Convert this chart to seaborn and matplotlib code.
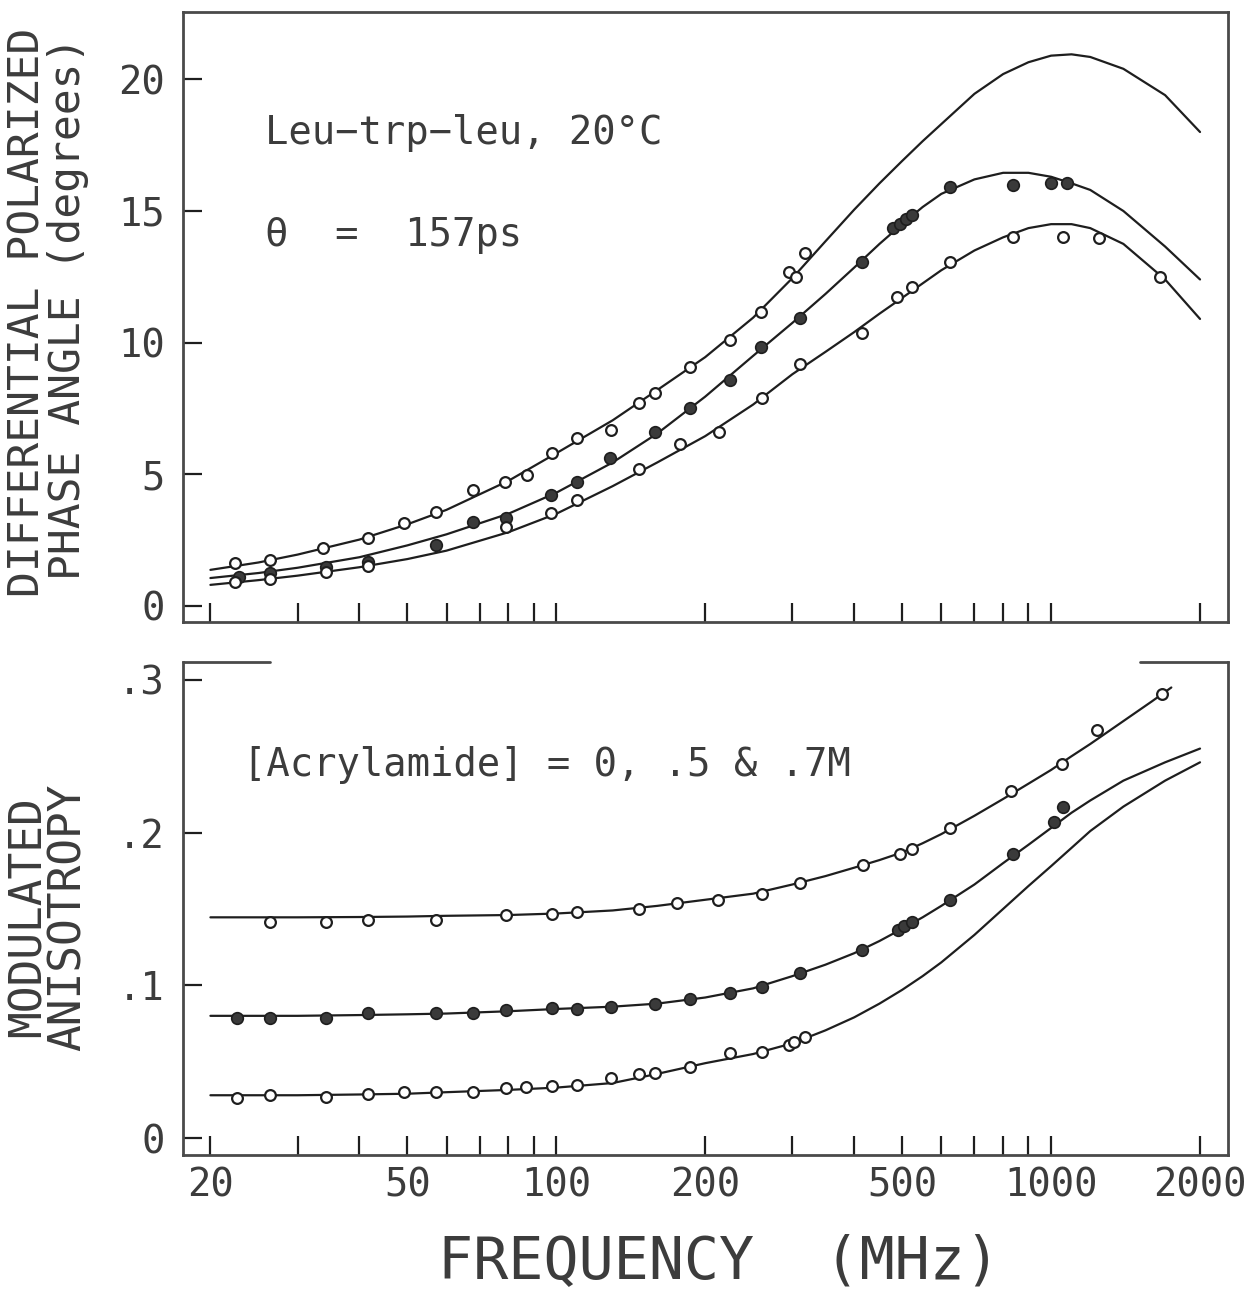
import matplotlib
matplotlib.use("Agg")
import matplotlib.pyplot as plt
import seaborn as sns
from matplotlib.ticker import FixedLocator, FixedFormatter, NullFormatter

# ---------------- data ----------------
fit_freq = [20, 25, 30, 40, 50, 60, 80, 100, 130, 160, 200, 250, 300, 350, 400, 450, 500,
            550, 600, 700, 800, 900, 1000, 1100, 1200, 1400, 1700, 2000]

# Top panel: differential polarized phase angle (degrees) - fitted curves
phase_fit_a = [1.37, 1.65, 1.95, 2.52, 3.1, 3.65, 4.75, 5.8, 7.05, 8.2, 9.45, 10.95, 12.45,
               13.85, 15.05, 16.05, 16.9, 17.65, 18.3, 19.45, 20.2, 20.65, 20.9, 20.95,
               20.85, 20.4, 19.4, 18.0]
phase_fit_b = [1.06, 1.25, 1.45, 1.85, 2.3, 2.72, 3.5, 4.3, 5.45, 6.55, 7.95, 9.5, 10.75,
               11.85, 12.85, 13.75, 14.5, 15.15, 15.65, 16.2, 16.45, 16.45, 16.3, 16.05,
               15.8, 15.0, 13.65, 12.4]
phase_fit_c = [0.80, 0.98, 1.15, 1.47, 1.78, 2.1, 2.8, 3.5, 4.55, 5.45, 6.45, 7.65, 8.8,
               9.65, 10.4, 11.1, 11.7, 12.25, 12.75, 13.5, 14.0, 14.35, 14.5, 14.5, 14.35,
               13.75, 12.4, 10.9]

# Top panel: measured points
phase_a_f = [22.4, 26.4, 33.8, 41.7, 49.2, 57.1, 67.9, 78.6, 87.2, 98.1, 110, 129, 147,
             158, 186.5, 224, 259, 296, 305, 318]
phase_a_v = [1.62, 1.75, 2.19, 2.57, 3.14, 3.58, 4.41, 4.72, 4.98, 5.80, 6.37, 6.68, 7.70,
             8.08, 9.09, 10.1, 11.18, 12.7, 12.5, 13.4]
phase_b_f = [22.8, 26.4, 34.2, 41.7, 57.1, 67.9, 79.3, 97.5, 110, 128.6, 158, 186.5, 224,
             259, 311, 415, 480, 495, 509, 523, 626, 836, 1000, 1075]
phase_b_v = [1.11, 1.24, 1.49, 1.68, 2.3, 3.20, 3.33, 4.22, 4.72, 5.61, 6.62, 7.51, 8.58,
             9.85, 10.93, 13.08, 14.35, 14.5, 14.7, 14.85, 15.93, 15.99, 16.05, 16.05]
phase_c_f = [22.4, 26.4, 34.2, 41.7, 79.3, 97.5, 110, 147, 178, 213, 261, 311, 415, 489,
             523, 626, 836, 1056, 1252, 1658]
phase_c_v = [0.92, 1.02, 1.3, 1.52, 3.0, 3.52, 4.03, 5.2, 6.15, 6.6, 7.9, 9.2, 10.36, 11.75,
             12.13, 13.08, 14.0, 14.0, 13.97, 12.5]

# Bottom panel: modulated anisotropy - fitted curves
aniso_fit_top_f = [20, 25, 30, 40, 50, 60, 80, 100, 130, 160, 200, 250, 300, 350, 400, 450,
                   500, 550, 600, 700, 800, 900, 1000, 1100, 1200, 1400, 1600, 1750]
aniso_fit_top = [0.1445, 0.1445, 0.1445, 0.1447, 0.145, 0.1455, 0.146, 0.147, 0.149, 0.152,
                 0.156, 0.160, 0.166, 0.1715, 0.177, 0.182, 0.187, 0.193, 0.199, 0.211,
                 0.222, 0.232, 0.241, 0.250, 0.258, 0.273, 0.286, 0.295]
aniso_fit_mid = [0.080, 0.080, 0.080, 0.0805, 0.081, 0.0815, 0.083, 0.0845, 0.086, 0.088,
                 0.092, 0.098, 0.106, 0.1135, 0.121, 0.129, 0.137, 0.1445, 0.152, 0.166,
                 0.180, 0.192, 0.203, 0.213, 0.221, 0.234, 0.246, 0.255]
aniso_fit_low = [0.028, 0.028, 0.028, 0.0285, 0.029, 0.030, 0.0315, 0.033, 0.036, 0.042,
                 0.049, 0.055, 0.062, 0.0705, 0.079, 0.088, 0.097, 0.106, 0.115, 0.133,
                 0.150, 0.165, 0.178, 0.190, 0.201, 0.217, 0.234, 0.246]

# Bottom panel: measured points
aniso_top_f = [26.4, 34.2, 41.7, 57.1, 79.3, 98, 110, 147, 175, 212, 261, 311, 416, 494,
               524, 624, 829, 1052, 1240, 1672]
aniso_top_v = [0.1417, 0.1417, 0.143, 0.143, 0.146, 0.147, 0.148, 0.150, 0.154, 0.156,
               0.160, 0.167, 0.179, 0.186, 0.189, 0.203, 0.227, 0.245, 0.267, 0.291]
aniso_mid_f = [22.6, 26.4, 34.2, 41.7, 57.1, 67.9, 79.3, 98, 110, 129, 158, 186.5, 224, 261,
               311, 415, 490, 505, 523, 626, 836, 1013, 1056]
aniso_mid_v = [0.0784, 0.0784, 0.0784, 0.0817, 0.0817, 0.0817, 0.0838, 0.0849, 0.0843,
               0.086, 0.0875, 0.0908, 0.0948, 0.099, 0.108, 0.123, 0.136, 0.139, 0.1417,
               0.156, 0.186, 0.207, 0.217]
aniso_low_f = [22.6, 26.4, 34.2, 41.7, 49.2, 57.1, 67.9, 79.3, 87, 98, 110, 129, 147, 158,
               186.5, 224, 261, 295, 303, 318]
aniso_low_v = [0.026, 0.0282, 0.027, 0.029, 0.0303, 0.0303, 0.0303, 0.0325, 0.0336, 0.034,
               0.0347, 0.039, 0.042, 0.0425, 0.0467, 0.0555, 0.056, 0.061, 0.063, 0.066]

x_major = [20, 50, 100, 200, 500, 1000, 2000]
x_major_labels = ["20", "50", "100", "200", "500", "1000", "2000"]
x_minor = [30, 40, 60, 70, 80, 90, 300, 400, 600, 700, 800, 900]
phase_ticks = [0, 5, 10, 15, 20]
phase_tick_labels = ["0", "5", "10", "15", "20"]
aniso_ticks = [0, 0.1, 0.2, 0.3]
aniso_tick_labels = ["0", ".1", ".2", ".3"]

# ---------------- style ----------------
sns.set_theme(style="white")
plt.rcParams['font.family'] = ['DejaVu Sans Mono', 'DejaVu Sans']
INK = "#1e1e1e"
TXT = "#3c3c3c"
FRAME = "#4a4a4a"

fig = plt.figure(figsize=(12.6, 12.98), dpi=100)
ax1 = fig.add_axes([0.1452, 0.5208, 0.8294, 0.4700])
ax2 = fig.add_axes([0.1452, 0.1102, 0.8294, 0.3798])

for ax in (ax1, ax2):
    ax.set_xscale('log')
    ax.set_xlim(17.6, 2278)

def draw_curve(ax, f, v):
    sns.lineplot(x=f, y=v, ax=ax, color=INK, lw=1.6, estimator=None, sort=False, zorder=2)

def draw_open(ax, f, v):
    sns.scatterplot(x=f, y=v, ax=ax, marker='o', s=60, color='white',
                    edgecolor=INK, linewidth=1.6, zorder=3)

def draw_filled(ax, f, v):
    sns.scatterplot(x=f, y=v, ax=ax, marker='o', s=70, color='#3a3a3a',
                    edgecolor=INK, linewidth=1.2, zorder=3)

# top panel
draw_curve(ax1, fit_freq, phase_fit_a)
draw_curve(ax1, fit_freq, phase_fit_b)
draw_curve(ax1, fit_freq, phase_fit_c)
draw_open(ax1, phase_a_f, phase_a_v)
draw_filled(ax1, phase_b_f, phase_b_v)
draw_open(ax1, phase_c_f, phase_c_v)
ax1.set_ylim(-0.61, 22.56)

# bottom panel
draw_curve(ax2, aniso_fit_top_f, aniso_fit_top)
draw_curve(ax2, fit_freq, aniso_fit_mid)
draw_curve(ax2, fit_freq, aniso_fit_low)
draw_open(ax2, aniso_top_f, aniso_top_v)
draw_filled(ax2, aniso_mid_f, aniso_mid_v)
draw_open(ax2, aniso_low_f, aniso_low_v)
ax2.set_ylim(-0.0111, 0.3117)

for ax in (ax1, ax2):
    ax.xaxis.set_major_locator(FixedLocator(x_major))
    ax.xaxis.set_minor_locator(FixedLocator(x_minor))
    ax.xaxis.set_minor_formatter(NullFormatter())
    ax.tick_params(axis='both', which='both', direction='in', length=14, width=1.6,
                   color=INK, bottom=True, left=True, top=False, right=False,
                   labelcolor=TXT, labelsize=28)
    ax.tick_params(axis='y', which='minor', left=False)
    ax.tick_params(axis='y', pad=13)
    ax.tick_params(axis='x', pad=8)
    ax.set_xlabel("")
    ax.set_ylabel("")
    for s in ax.spines.values():
        s.set_linewidth(2.0)
        s.set_color(FRAME)

ax1.xaxis.set_major_formatter(NullFormatter())
ax2.xaxis.set_major_formatter(FixedFormatter(x_major_labels))
ax1.yaxis.set_major_locator(FixedLocator(phase_ticks))
ax1.yaxis.set_major_formatter(FixedFormatter(phase_tick_labels))
ax2.yaxis.set_major_locator(FixedLocator(aniso_ticks))
ax2.yaxis.set_major_formatter(FixedFormatter(aniso_tick_labels))

# bottom panel: top frame only partly drawn
ax2.spines['top'].set_visible(False)
ytop = ax2.get_ylim()[1]
ax2.axhline(ytop, xmin=0.0, xmax=0.083, color=FRAME, lw=2.0, clip_on=False)
ax2.axhline(ytop, xmin=0.916, xmax=1.0, color=FRAME, lw=2.0, clip_on=False)

# annotations
ax1.text(0.0785, 0.802, "Leu\u2212trp\u2212leu, 20\u00b0C", transform=ax1.transAxes,
         fontsize=28, color=TXT, ha='left', va='center')
ax1.text(0.0785, 0.634, "\u03b8  =  157ps", transform=ax1.transAxes,
         fontsize=28, color=TXT, ha='left', va='center')
ax2.text(0.0574, 0.791, "[Acrylamide] = 0, .5 & .7M", transform=ax2.transAxes,
         fontsize=28, color=TXT, ha='left', va='center')

# axis titles
fig.text(0.0222, 0.7596, "DIFFERENTIAL POLARIZED", rotation=90, ha='center', va='center',
         fontsize=31, color=TXT)
fig.text(0.054, 0.7627, "PHASE ANGLE (degrees)", rotation=90, ha='center', va='center',
         fontsize=31, color=TXT)
fig.text(0.0222, 0.2935, "MODULATED", rotation=90, ha='center', va='center',
         fontsize=32, color=TXT)
fig.text(0.054, 0.2935, "ANISOTROPY", rotation=90, ha='center', va='center',
         fontsize=32, color=TXT)
fig.text(0.571, 0.0277, "FREQUENCY  (MHz)", ha='center', va='center',
         fontsize=42, color=TXT)

fig.savefig("out.png", dpi=100, facecolor='white')
